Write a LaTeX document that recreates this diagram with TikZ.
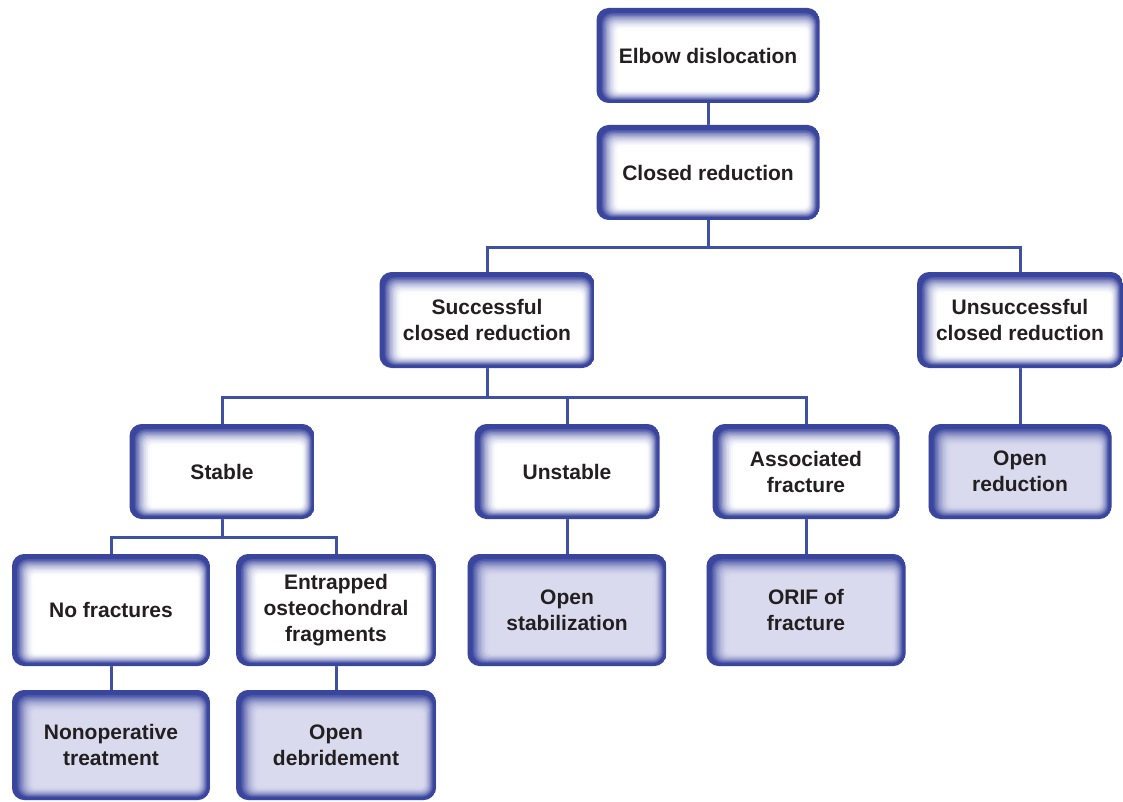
\documentclass[tikz,border=0pt]{standalone}
\usepackage{fontspec}
\setmainfont{Liberation Sans}
\usetikzlibrary{calc,backgrounds}

\definecolor{boxblue}{RGB}{58,70,158}
\definecolor{linkblue}{RGB}{63,81,163}
\definecolor{lavender}{RGB}{217,218,238}
\definecolor{ink}{RGB}{35,31,32}

\tikzset{
	glowbox/.style={rounded corners=12pt, fill=#1, inner sep=0pt, align=center, text=ink,
		font=\bfseries\fontsize{21}{26}\selectfont,
		path picture={
			\foreach \i/\m in {0/100,1/100,2/100,3/100,4/88,5/76,6/64,7/53,8/43,9/34,10/26,11/19,12/13,13/8,14/4,15/1}{
				\pgfmathsetmacro\rad{max(12-\i*0.6,3)}
				\draw[boxblue!\m!#1, line width=2pt, rounded corners=\rad pt]
					($(path picture bounding box.south west)+(\i*1.35pt+0.8pt,\i*0.8pt+0.8pt)$) rectangle
					($(path picture bounding box.north east)-(\i*0.8pt+0.8pt,\i*1.35pt+0.8pt)$);
			}
		}},
	decision/.style={glowbox=white},
	treatment/.style={glowbox=lavender},
	link/.style={draw=linkblue, line width=3pt}
}

\begin{document}
\begin{tikzpicture}[x=1pt, y=-1pt]
	\useasboundingbox (0, 0) rectangle (1123, 802);

	%%%%% BOXES %%%%%
	\node[decision, minimum width=223, minimum height=95] (elbow) at (708, 55.5) {Elbow dislocation};
	\node[decision, minimum width=223, minimum height=95] (closed) at (708, 172.5) {Closed reduction};

	\node[decision, minimum width=215, minimum height=96] (succ) at (487, 320) {Successful\\closed reduction};
	\node[decision, minimum width=206, minimum height=96] (unsucc) at (1020, 320) {Unsuccessful\\closed reduction};

	\node[decision, minimum width=185, minimum height=95] (stable) at (222, 471.5) {Stable};
	\node[decision, minimum width=185, minimum height=95] (unstable) at (567, 471.5) {Unstable};
	\node[decision, minimum width=187, minimum height=95] (assoc) at (806, 471.5) {Associated\\fracture};
	\node[treatment, minimum width=183, minimum height=95] (openred) at (1020, 471.5) {Open\\reduction};

	\node[decision, minimum width=198, minimum height=112] (nofrac) at (111, 610) {No fractures};
	\node[decision, minimum width=200, minimum height=112] (entrap) at (336, 610) {Entrapped\\osteochondral\\fragments};
	\node[treatment, minimum width=199, minimum height=112] (openstab) at (567, 610) {Open\\stabilization};
	\node[treatment, minimum width=199, minimum height=112] (orif) at (806, 610) {ORIF of\\fracture};

	\node[treatment, minimum width=198, minimum height=110] (nonop) at (111, 745) {Nonoperative\\treatment};
	\node[treatment, minimum width=200, minimum height=110] (debride) at (336, 745) {Open\\debridement};

	%%%%% LINKS %%%%%
	\begin{scope}[on background layer]
		\draw[link] (elbow) -- (closed);
		\draw[link] (closed.south) -- ++(0, 27) -| (succ.north);
		\draw[link] (closed.south) -- ++(0, 27) -| (unsucc.north);
		\draw[link] (unsucc) -- (openred);

		\draw[link] (succ.south) -- ++(0, 29) -| (stable.north);
		\draw[link] (succ.south) -- ++(0, 29) -| (unstable.north);
		\draw[link] (succ.south) -- ++(0, 29) -| (assoc.north);

		\draw[link] (stable.south) -- ++(0, 18) -| (nofrac.north);
		\draw[link] (stable.south) -- ++(0, 18) -| (entrap.north);

		\draw[link] (nofrac) -- (nonop);
		\draw[link] (entrap) -- (debride);
		\draw[link] (unstable) -- (openstab);
		\draw[link] (assoc) -- (orif);
	\end{scope}
\end{tikzpicture}
\end{document}
